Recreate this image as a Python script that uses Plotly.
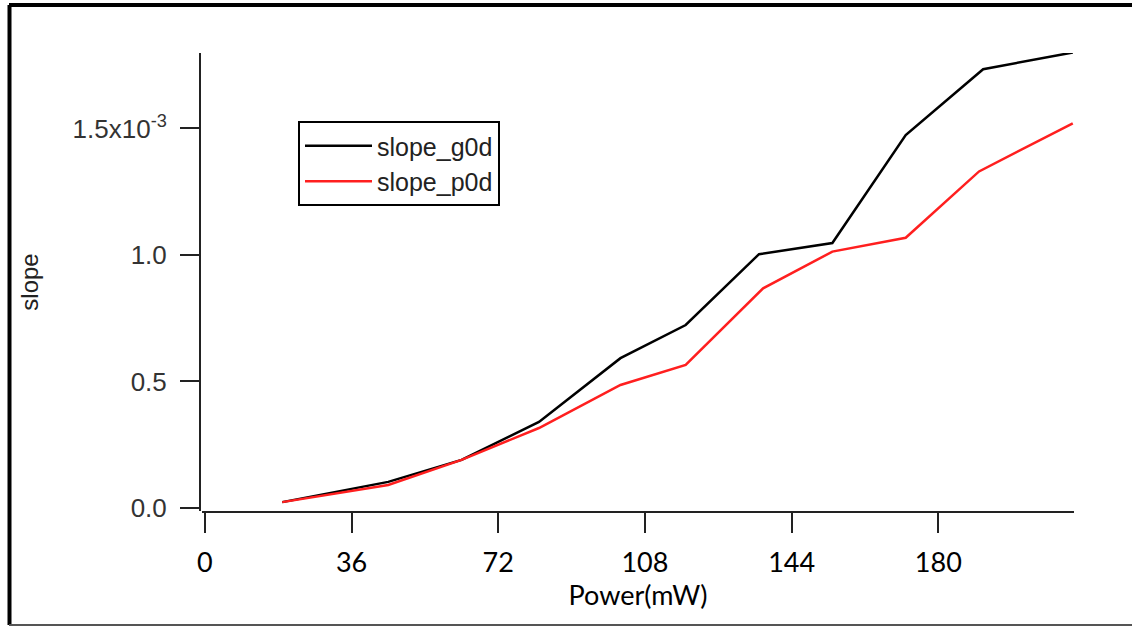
import plotly.graph_objects as go

# Data (slope values in units of 1e-3)
power_mw = [19, 45, 63, 82, 102, 118, 136, 154, 172, 191, 213]
slope_g0d = [0.023, 0.103, 0.19, 0.34, 0.592, 0.723, 1.003, 1.047, 1.474, 1.734, 1.80]
power_mw_p = [19, 45, 63, 82, 102, 118, 137, 154, 172, 190, 213]
slope_p0d = [0.023, 0.091, 0.19, 0.316, 0.486, 0.565, 0.868, 1.013, 1.068, 1.33, 1.52]

x_ticks = [0, 36, 72, 108, 144, 180]
y_ticks = [0.0, 0.5, 1.0, 1.5]
y_ticktext = ["0.0", "0.5", "1.0", "1.5x10<sup>-3</sup>"]

W, H = 1132, 627
ML, MR, MT, MB = 100, 50, 53, 116
PW = W - ML - MR
PH = H - MT - MB


def px_x(p):
    return (p - ML) / PW


def px_y(p):
    return (H - MB - p) / PH


fig = go.Figure()
fig.add_trace(go.Scatter(x=power_mw, y=slope_g0d, mode="lines", name="slope_g0d",
                         line=dict(color="#000000", width=2.5)))
fig.add_trace(go.Scatter(x=power_mw_p, y=slope_p0d, mode="lines", name="slope_p0d",
                         line=dict(color="#ff1f1f", width=2.5)))

fig.update_layout(
    width=W, height=H,
    margin=dict(l=ML, r=MR, t=MT, b=MB),
    paper_bgcolor="white", plot_bgcolor="white",
    showlegend=True,
    legend=dict(x=px_x(298), y=px_y(121), xanchor="left", yanchor="top",
                bordercolor="black", borderwidth=2, bgcolor="white",
                font=dict(family="Liberation Sans, Arial", size=25, color="#222"),
                itemwidth=67, tracegroupgap=0),
    xaxis=dict(domain=[px_x(202), px_x(1074)], range=[-0.7, 213.3],
               tickvals=x_ticks, ticks="outside", ticklen=20, tickwidth=2,
               tickcolor="#222", showline=True, linewidth=2, linecolor="#222",
               showgrid=False, zeroline=False, ticklabelstandoff=7,
               tickfont=dict(family="Lato", size=27, color="black"),
               title=dict(text="Power(mW)", standoff=8,
                          font=dict(family="Lato", size=27, color="black"))),
    yaxis=dict(domain=[0, 1], range=[-0.012, 1.798], anchor="free", position=px_x(200),
               tickvals=y_ticks, ticktext=y_ticktext, ticks="outside", ticklen=19,
               tickwidth=2, tickcolor="#222", showline=True, linewidth=2,
               linecolor="#222", showgrid=False, zeroline=False, ticklabelstandoff=8,
               tickfont=dict(family="Liberation Sans, Arial", size=26, color="#333"),
               title=dict(text="slope", standoff=26,
                          font=dict(family="Liberation Sans, Arial", size=24, color="#222"))),
)

# Outer frame
fig.add_shape(type="line", xref="paper", yref="paper", x0=px_x(9), x1=px_x(1140),
              y0=px_y(5), y1=px_y(5), line=dict(color="black", width=4))
fig.add_shape(type="line", xref="paper", yref="paper", x0=px_x(9.5), x1=px_x(9.5),
              y0=px_y(5), y1=px_y(625), line=dict(color="black", width=4))
fig.add_shape(type="line", xref="paper", yref="paper", x0=px_x(9), x1=px_x(1140),
              y0=px_y(625), y1=px_y(625), line=dict(color="#555", width=2))

fig.write_html("out.html")
